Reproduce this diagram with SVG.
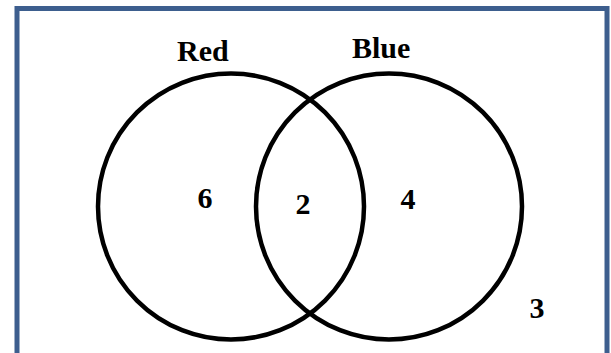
<svg xmlns="http://www.w3.org/2000/svg" width="611" height="353" viewBox="0 0 611 353">
<style>
.frame{fill:#fff;stroke:#3d5e8e;stroke-width:5}
.set{fill:none;stroke:#000;stroke-width:4.5}
text{font-family:'Liberation Serif','Times New Roman','DejaVu Serif',serif;font-weight:bold;fill:#000}
.lbl{font-size:30px}
.num{font-size:30px;text-anchor:middle}
</style>
<rect width="611" height="353" fill="#fff"/>
<rect class="frame" x="17" y="8.5" width="590" height="360"/>
<g id="red">
<circle class="set" cx="231" cy="206.5" r="133"/>
<text class="lbl" x="177" y="61">Red</text>
</g>
<g id="blue">
<circle class="set" cx="389" cy="206.5" r="133"/>
<text class="lbl" x="352" y="58">Blue</text>
</g>
<g id="regions">
<text class="num" x="205" y="208">6</text>
<text class="num" x="303" y="214">2</text>
<text class="num" x="408" y="209">4</text>
<text class="num" x="537" y="318">3</text>
</g>
</svg>
